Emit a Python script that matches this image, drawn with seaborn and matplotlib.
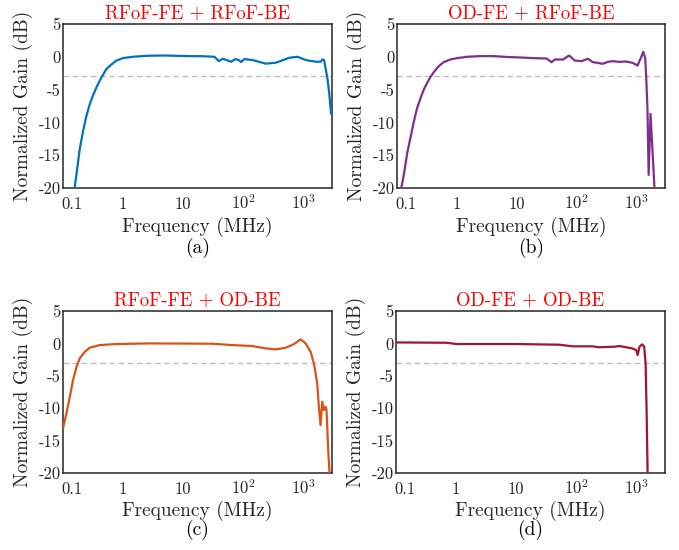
import matplotlib
matplotlib.use("Agg")
import matplotlib.pyplot as plt
import matplotlib.transforms as mtransforms
from matplotlib.ticker import FixedLocator, LogLocator, NullFormatter
import pandas as pd
import seaborn as sns

# Measured normalized gain responses (frequency in MHz, gain in dB)
freq_a = [0.15, 0.156, 0.171, 0.189, 0.215, 0.244, 0.277, 0.315, 0.367, 0.433, 0.524,
          0.634, 0.767, 0.99, 1.45, 2.41, 4.5, 8.0, 12.8, 20, 33.2, 39.1, 45.6, 53.1,
          62.8, 74.0, 84.0, 92.0, 104, 143, 239, 350, 582, 799, 1100, 1610, 1950,
          2075, 2213, 2362, 2511, 2680, 2900]
gain_a = [-21, -20, -17.3, -14.2, -11.4, -9.1, -7.3, -5.9, -4.5, -3.2, -1.9,
          -1.2, -0.6, -0.2, 0.0, 0.15, 0.2, 0.15, 0.1, 0.1, 0.0, -0.65, -0.3, -0.5,
          -0.75, -0.35, -0.5, -0.8, -0.35, -0.5, -1.05, -0.9, -0.15, 0.0, -0.5, -0.75, -0.75,
          -0.4, -0.5, -1.9, -3.2, -5.3, -8.7]

freq_b = [0.113, 0.118, 0.131, 0.148, 0.169, 0.191, 0.217, 0.247, 0.280, 0.318, 0.361,
          0.411, 0.497, 0.601, 0.776, 1.0, 1.47, 2.44, 4.06, 7.68, 11.4, 18.7, 31.6,
          38.2, 43.3, 59.6, 74.9, 93, 120, 155, 187, 226, 274, 332, 402, 519, 670,
          861, 1043, 1188, 1300, 1400, 1455, 1530, 1600, 1720, 2000, 2060]
gain_b = [-21, -20, -17.8, -14.7, -12.2, -9.9, -7.8, -6.3, -5.0, -4.0, -3.1,
          -2.35, -1.44, -0.82, -0.41, -0.21, 0.0, 0.1, 0.1, -0.05, -0.1, -0.2, -0.26,
          -0.82, -0.41, -0.41, 0.2, -0.57, -0.67, -0.31, -0.82, -0.92, -1.07, -0.77, -0.67, -0.77, -0.72,
          -0.92, -1.33, -0.16, 0.76, -0.2, -3.0, -8.1, -18.0, -8.7, -20, -22]

freq_c = [0.1, 0.114, 0.130, 0.147, 0.168, 0.190, 0.230, 0.278, 0.408, 0.771, 2.75,
          30.8, 66.2, 142, 237, 347, 508, 698, 902, 1092, 1321, 1500, 1703, 1815,
          1936, 2061, 2197, 2344, 2434, 2592, 2730, 2800]
gain_c = [-13.1, -10.8, -8.2, -5.65, -3.6, -2.3, -1.3, -0.67, -0.26, -0.1, 0.0,
          -0.05, -0.26, -0.41, -0.77, -0.92, -0.67, -0.1, 0.62, 0.0, -1.3, -3.1, -6.2, -9.8,
          -12.6, -9.0, -10.3, -9.8, -10.3, -16.4, -20, -22]

freq_d = [0.1, 0.3, 0.7, 0.85, 1.0, 3, 10, 52, 86.5, 186, 240, 453, 514, 855, 996,
          1049, 1132, 1253, 1352, 1426, 1482, 1540, 1560]
gain_d = [0.15, 0.12, 0.1, 0.0, -0.1, -0.1, -0.1, -0.2, -0.45, -0.45, -0.6, -0.5, -0.4, -0.77, -1.03,
          -1.8, -0.5, -0.15, -0.5, -3.1, -10.3, -20, -22]

titles = ["RFoF-FE + RFoF-BE", "OD-FE + RFoF-BE", "RFoF-FE + OD-BE", "OD-FE + OD-BE"]
captions = ["(a)", "(b)", "(c)", "(d)"]
colors = ["#0072BD", "#7E2F8E", "#D95319", "#A2142F"]
xticks = [0.1, 1, 10, 100, 1000]
xticklabels = ["0.1", "1", "10", r"$10^2$", r"$10^3$"]
yticks = [5, 0, -5, -10, -15, -20]
yticklabels = ["5", "0", "-5", "-10", "-15", "-20"]
cutoff_db = -3

sns.set_style("white")
plt.rcParams.update({
    "font.family": "serif",
    "font.serif": ["cmr10"],
    "mathtext.fontset": "cm",
    "axes.unicode_minus": False,
    "axes.formatter.use_mathtext": True,
})

W, H = 679, 550
fig = plt.figure(figsize=(W / 100, H / 100), dpi=100)

# axes rectangles in pixels: left, top, right, bottom
rects = [(63, 24, 332, 188), (397, 24, 665, 188),
         (63, 311, 332, 473), (396, 311, 665, 473)]
caption_y = [248, 248, 530, 530]

series = [(freq_a, gain_a), (freq_b, gain_b), (freq_c, gain_c), (freq_d, gain_d)]
frame_col = "#262626"

for i, ((l, t, r, b), (fx, gy)) in enumerate(zip(rects, series)):
    ax = fig.add_axes([l / W, 1 - b / H, (r - l) / W, (b - t) / H])
    df = pd.DataFrame({"Frequency": fx, "Gain": gy})
    ax.axhline(cutoff_db, color="#BDBDBD", lw=1.0, dashes=(4, 2.6), zorder=1)
    sns.lineplot(data=df, x="Frequency", y="Gain", ax=ax, color=colors[i],
                 lw=1.6, estimator=None, sort=False, zorder=3)
    ax.set_xscale("log")
    ax.set_xlim(0.1, 3000)
    ax.set_ylim(-20, 5)
    ax.xaxis.set_major_locator(FixedLocator(xticks))
    ax.set_xticklabels(xticklabels)
    ax.xaxis.set_minor_locator(LogLocator(base=10, subs=range(2, 10), numticks=20))
    ax.xaxis.set_minor_formatter(NullFormatter())
    ax.set_yticks(yticks)
    ax.set_yticklabels(yticklabels)
    ax.tick_params(axis="x", which="major", direction="in", length=4, width=0.8,
                   colors=frame_col, labelsize=12, pad=14.8)
    ax.tick_params(axis="x", which="minor", direction="in", length=2.2, width=0.6,
                   colors=frame_col)
    ax.tick_params(axis="y", which="major", direction="in", length=4, width=0.8,
                   colors=frame_col, labelsize=12, pad=1.5)
    for lab in ax.get_xticklabels():
        lab.set_va("baseline")
    first = ax.get_xticklabels()[0]
    first.set_transform(first.get_transform() +
                        mtransforms.ScaledTranslation(9 / 100, 0, fig.dpi_scale_trans))
    for sp in ax.spines.values():
        sp.set_visible(True)
        sp.set_color(frame_col)
        sp.set_linewidth(1.1)
    ax.set_xlabel("Frequency (MHz)", fontsize=14, color=frame_col)
    ax.set_ylabel("Normalized Gain (dB)", fontsize=14, color=frame_col)
    ax.xaxis.set_label_coords(0.5, -0.175)
    ax.yaxis.set_label_coords(-0.113, 0.5)
    ax.set_title(titles[i], color="#FF0000", fontsize=13.5, pad=4.2)
    fig.text((l + r) / 2 / W, 1 - caption_y[i] / H, captions[i], ha="center",
             va="center", fontsize=14, color="black")

fig.savefig("out.png", dpi=100, facecolor="white")
